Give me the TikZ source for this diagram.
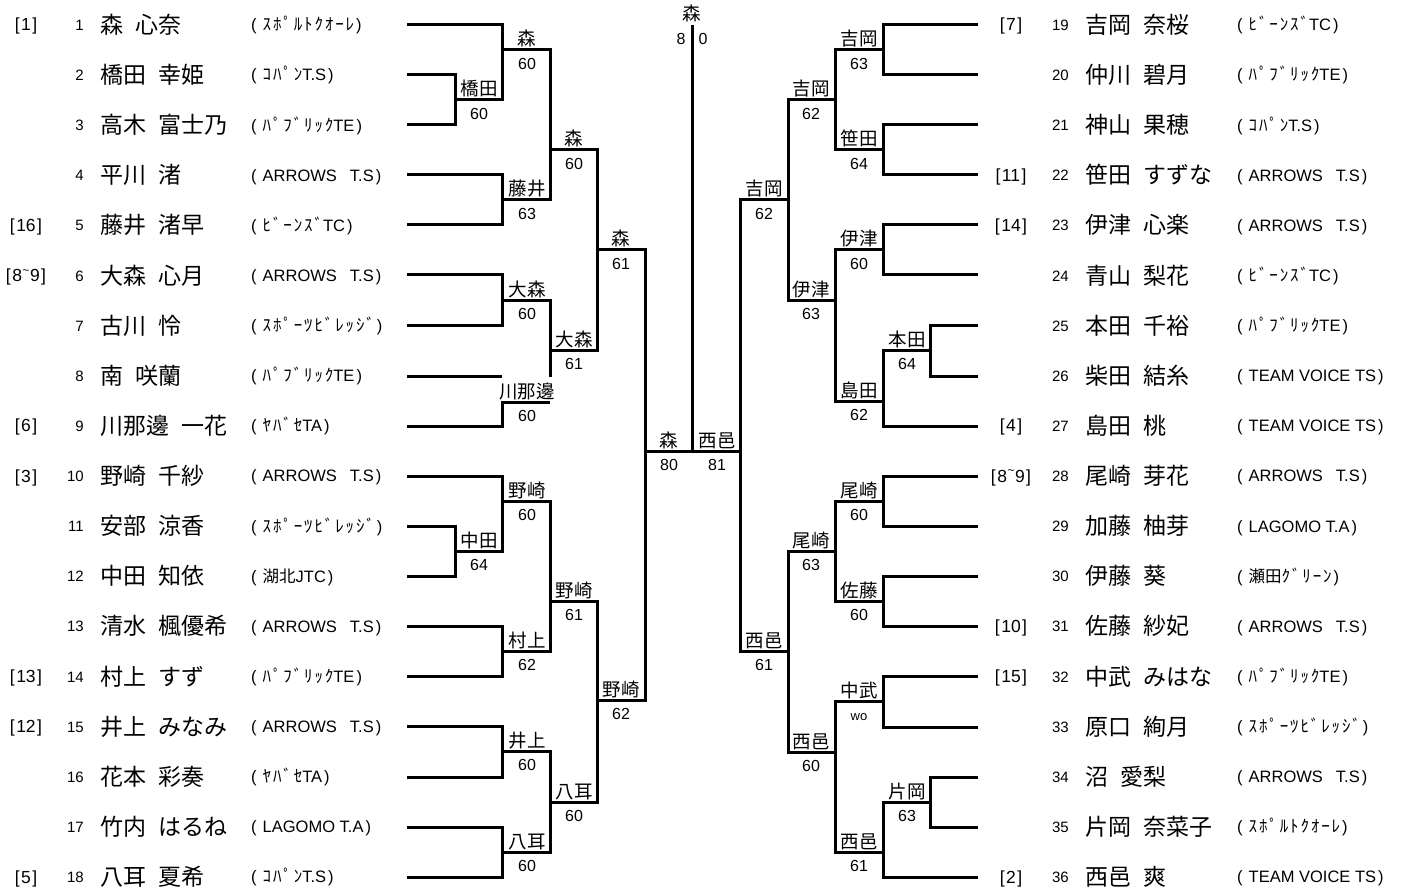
\documentclass[tikz,border=0pt]{standalone}
\usepackage{fontspec}
\setmainfont{Liberation Sans}
\newfontfamily\jp{Noto Sans CJK JP}
\newfontfamily\hk[LetterSpace=11]{Noto Sans CJK JP}
\newcommand\kt[1]{{\fontsize{17}{17}\hk #1}}
\newcommand\kj[1]{{\jp #1}}
\newcommand\AR{ARROWS\hspace{13pt}T.S}
\newcommand\TV{TEAM VOICE TS}
\newcommand\LA{LAGOMO T.A}
\newcommand\tm[1]{(\hspace{6pt}#1\hspace{2pt})}
\newcommand\sd[1]{[\hspace{1.5pt}#1\hspace{1.5pt}]}
\newcommand\ET{8\hspace{0.5pt}\raisebox{0.42em}{\fontsize{12}{12}\selectfont\textasciitilde}\hspace{0.5pt}9}
\tikzset{
 brk/.style={line width=3pt, line join=miter},
 nmS/.style={font=\jp\fontsize{23}{23}\selectfont, anchor=base west, inner sep=0pt},
 tmS/.style={font=\fontsize{16.5}{16.5}\selectfont, anchor=base west, inner sep=0pt},
 noS/.style={font=\fontsize{15}{15}\selectfont, anchor=base east, inner sep=0pt},
 sdS/.style={font=\fontsize{17.5}{17.5}\selectfont, anchor=base, inner sep=0pt},
 wn/.style={font=\jp\fontsize{18.5}{18.5}\selectfont, anchor=base, inner sep=0pt},
 sc/.style={font=\fontsize{16}{16}\selectfont, anchor=base, inner sep=0pt},
}
% left player: #1 id, #2 row, #3 seed, #4 surname, #5 given, #6 team
\newcommand\pL[6]{%
 \pgfmathsetmacro\yy{25+(#2-1)*50.12}%
 \ifx\relax#3\relax\else\node[sdS] (sd#1) at (26,\yy+6) {\sd{#3}};\fi
 \node[noS] (no#1) at (84,\yy+5.5) {#1};
 \node[nmS] (nm#1) at (100,\yy+8.5) {#4\hspace{12pt}#5};
 \node[tmS] (tm#1) at (251,\yy+5.8) {\tm{#6}};
}
\newcommand\pR[6]{%
 \pgfmathsetmacro\yy{25+(#2-1)*50.12}%
 \ifx\relax#3\relax\else\node[sdS] (sd#1) at (1011,\yy+6) {\sd{#3}};\fi
 \node[noS] (no#1) at (1069,\yy+5.5) {#1};
 \node[nmS] (nm#1) at (1085,\yy+8.5) {#4\hspace{12pt}#5};
 \node[tmS] (tm#1) at (1237,\yy+5.8) {\tm{#6}};
}
% match label: #1 id, #2 x, #3 line y, #4 winner, #5 score
\newcommand\lb[5]{%
 \node[wn] (w#1) at (#2,#3-4) {#4};
 \node[sc] (s#1) at (#2,#3+19.5) {#5};
}
\begin{document}
\begin{tikzpicture}[x=1pt,y=-1pt]
\useasboundingbox (0,0) rectangle (1413,893);
% ---------------- players left
\pL{1}{1}{1}{森}{心奈}{\kt{ｽﾎﾟﾙﾄｸｵｰﾚ}}
\pL{2}{2}{}{橋田}{幸姫}{\kt{ｺﾊﾟﾝ}T.S}
\pL{3}{3}{}{高木}{富士乃}{\kt{ﾊﾟﾌﾞﾘｯｸ}TE}
\pL{4}{4}{}{平川}{渚}{\AR}
\pL{5}{5}{16}{藤井}{渚早}{\kt{ﾋﾞｰﾝｽﾞ}TC}
\pL{6}{6}{\ET}{大森}{心月}{\AR}
\pL{7}{7}{}{古川}{怜}{\kt{ｽﾎﾟｰﾂﾋﾞﾚｯｼﾞ}}
\pL{8}{8}{}{南}{咲蘭}{\kt{ﾊﾟﾌﾞﾘｯｸ}TE}
\pL{9}{9}{6}{川那邊}{一花}{\kt{ﾔﾊﾞｾ}TA}
\pL{10}{10}{3}{野崎}{千紗}{\AR}
\pL{11}{11}{}{安部}{涼香}{\kt{ｽﾎﾟｰﾂﾋﾞﾚｯｼﾞ}}
\pL{12}{12}{}{中田}{知依}{\kj{湖北}JTC}
\pL{13}{13}{}{清水}{楓優希}{\AR}
\pL{14}{14}{13}{村上}{すず}{\kt{ﾊﾟﾌﾞﾘｯｸ}TE}
\pL{15}{15}{12}{井上}{みなみ}{\AR}
\pL{16}{16}{}{花本}{彩奏}{\kt{ﾔﾊﾞｾ}TA}
\pL{17}{17}{}{竹内}{はるね}{\LA}
\pL{18}{18}{5}{八耳}{夏希}{\kt{ｺﾊﾟﾝ}T.S}
% ---------------- players right
\pR{19}{1}{7}{吉岡}{奈桜}{\kt{ﾋﾞｰﾝｽﾞ}TC}
\pR{20}{2}{}{仲川}{碧月}{\kt{ﾊﾟﾌﾞﾘｯｸ}TE}
\pR{21}{3}{}{神山}{果穂}{\kt{ｺﾊﾟﾝ}T.S}
\pR{22}{4}{11}{笹田}{すずな}{\AR}
\pR{23}{5}{14}{伊津}{心楽}{\AR}
\pR{24}{6}{}{青山}{梨花}{\kt{ﾋﾞｰﾝｽﾞ}TC}
\pR{25}{7}{}{本田}{千裕}{\kt{ﾊﾟﾌﾞﾘｯｸ}TE}
\pR{26}{8}{}{柴田}{結糸}{\TV}
\pR{27}{9}{4}{島田}{桃}{\TV}
\pR{28}{10}{\ET}{尾崎}{芽花}{\AR}
\pR{29}{11}{}{加藤}{柚芽}{\LA}
\pR{30}{12}{}{伊藤}{葵}{\kj{瀬田}\kt{ｸﾞﾘｰﾝ}}
\pR{31}{13}{10}{佐藤}{紗妃}{\AR}
\pR{32}{14}{15}{中武}{みはな}{\kt{ﾊﾟﾌﾞﾘｯｸ}TE}
\pR{33}{15}{}{原口}{絢月}{\kt{ｽﾎﾟｰﾂﾋﾞﾚｯｼﾞ}}
\pR{34}{16}{}{沼}{愛梨}{\AR}
\pR{35}{17}{}{片岡}{奈菜子}{\kt{ｽﾎﾟﾙﾄｸｵｰﾚ}}
\pR{36}{18}{2}{西邑}{爽}{\TV}
% ---------------- bracket left
\begin{scope}[brk]
\draw (407,25) -| (502,100) -- (455,100);
\draw (407,75) -| (455,125) -- (407,125);
\draw (502,50) -| (550,200) -- (502,200);
\draw (407,175) -| (502,225) -- (407,225);
\draw (550,150) -| (597,350) -- (550,350);
\draw (407,275) -| (502,325) -- (407,325);
\draw (502,300) -| (550,377);
\draw (407,376) -- (502,376);
\draw (407,426) -| (502,402) -- (550,402);
\draw (597,250) -| (645,700) -- (597,700);
\draw (407,476) -| (502,551) -- (455,551);
\draw (407,526) -| (455,576) -- (407,576);
\draw (502,501) -| (550,651) -- (502,651);
\draw (407,626) -| (502,676) -- (407,676);
\draw (550,601) -| (597,802) -- (550,802);
\draw (407,726) -| (502,777) -- (407,777);
\draw (502,751) -| (550,852) -- (502,852);
\draw (407,827) -| (502,877) -- (407,877);
% final
\draw (645,451) -- (740,451);
\draw (692,25) -- (692,451);
% right
\draw (788,200) -- (740,200) |- (788,651);
\draw (978,25) -| (883,75) -- (978,75);
\draw (883,50) -| (835,150) -- (883,150);
\draw (978,125) -| (883,175) -- (978,175);
\draw (835,100) -| (788,300) -- (835,300);
\draw (978,225) -| (883,275) -- (978,275);
\draw (883,250) -| (835,401) -- (883,401);
\draw (978,325) -| (930,376) -- (978,376);
\draw (930,350) -- (883,350) |- (978,426);
\draw (978,476) -| (883,526) -- (978,526);
\draw (883,501) -| (835,601) -- (883,601);
\draw (978,576) -| (883,626) -- (978,626);
\draw (835,551) -| (788,752) -- (835,752);
\draw (978,676) -| (883,727) -- (978,727);
\draw (883,701) -| (835,852) -- (883,852);
\draw (978,777) -| (930,827) -- (978,827);
\draw (930,802) -- (883,802) |- (978,877);
\end{scope}
% ---------------- labels left
\lb{a1}{479}{100}{橋田}{60}
\lb{a2}{527}{50}{森}{60}
\lb{a3}{527}{200}{藤井}{63}
\lb{a4}{574}{150}{森}{60}
\lb{a5}{527}{300}{大森}{60}
\lb{a6}{574}{350}{大森}{61}
\lb{a7}{527}{402}{川那邊}{60}
\lb{a8}{621}{250}{森}{61}
\lb{a9}{527}{501}{野崎}{60}
\lb{a10}{479}{551}{中田}{64}
\lb{a11}{527}{651}{村上}{62}
\lb{a12}{574}{601}{野崎}{61}
\lb{a13}{527}{751}{井上}{60}
\lb{a14}{527}{852}{八耳}{60}
\lb{a15}{574}{802}{八耳}{60}
\lb{a16}{621}{700}{野崎}{62}
% final
\lb{f1}{669}{451}{森}{80}
\lb{f2}{717}{451}{西邑}{81}
\node[wn] (champ) at (692,21) {森};
\node[sc] (fs1) at (681,45) {8};
\node[sc] (fs2) at (703,45) {0};
% ---------------- labels right
\lb{b1}{859}{50}{吉岡}{63}
\lb{b2}{859}{150}{笹田}{64}
\lb{b3}{811}{100}{吉岡}{62}
\lb{b4}{859}{250}{伊津}{60}
\lb{b5}{907}{350}{本田}{64}
\lb{b6}{859}{401}{島田}{62}
\lb{b7}{811}{300}{伊津}{63}
\lb{b8}{764}{200}{吉岡}{62}
\lb{b9}{859}{501}{尾崎}{60}
\lb{b10}{859}{601}{佐藤}{60}
\lb{b11}{811}{551}{尾崎}{63}
\lb{b12}{859}{701}{中武}{\fontsize{13}{13}\selectfont wo}
\lb{b13}{907}{802}{片岡}{63}
\lb{b14}{859}{852}{西邑}{61}
\lb{b15}{811}{752}{西邑}{60}
\lb{b16}{764}{651}{西邑}{61}
\end{tikzpicture}
\end{document}
